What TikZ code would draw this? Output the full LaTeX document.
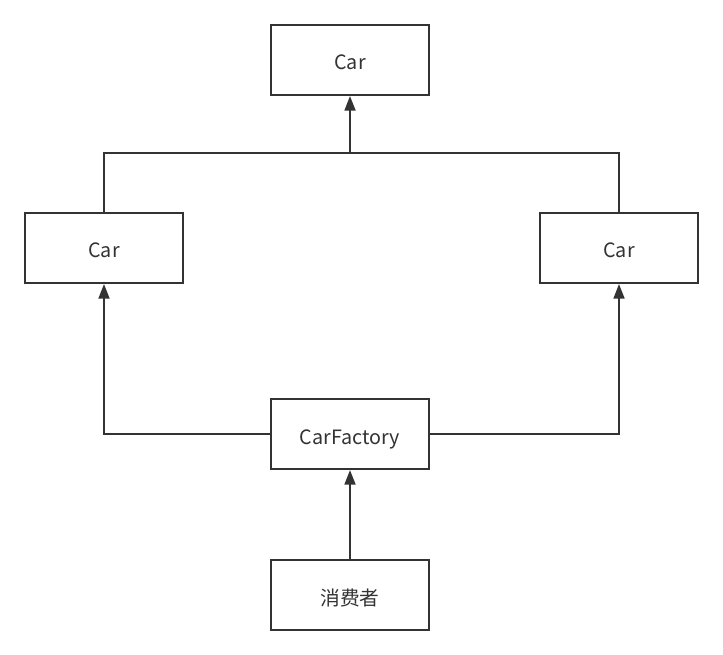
\documentclass[tikz,border=0pt]{standalone}
\usepackage{fontspec}
\setmainfont{Noto Sans CJK SC}
\usetikzlibrary{arrows.meta}
\definecolor{ink}{HTML}{333333}
\tikzset{
  box/.style={draw=ink, line width=1.5pt, minimum width=118.5pt, minimum height=52.5pt, inner sep=0pt, text height=15pt, text depth=0pt, text=ink, font=\fontsize{14.8pt}{17pt}\selectfont, fill=white},
  link/.style={draw=ink, line width=1.5pt},
  arr/.style={link, -{Triangle[length=11pt,width=8.2pt]}}
}
\begin{document}
\begin{tikzpicture}[x=0.75pt,y=-0.75pt]
\useasboundingbox (0,0) rectangle (723,655);
\node[box] (top) at (350,60) {Car};
\node[box] (lc) at (104,248) {Car};
\node[box] (rc) at (619,248) {Car};
\node[box] (cf) at (350,434) {CarFactory};
\node[box] (cons) at (350,595) {消费者};
\coordinate (j) at (350,153);
\draw[link] (lc.north) |- (j) -| (rc.north);
\draw[arr] (j) -- (top.south);
\draw[arr] (cf.west) -| (lc.south);
\draw[arr] (cf.east) -| (rc.south);
\draw[arr] (cons.north) -- (cf.south);
\end{tikzpicture}
\end{document}
